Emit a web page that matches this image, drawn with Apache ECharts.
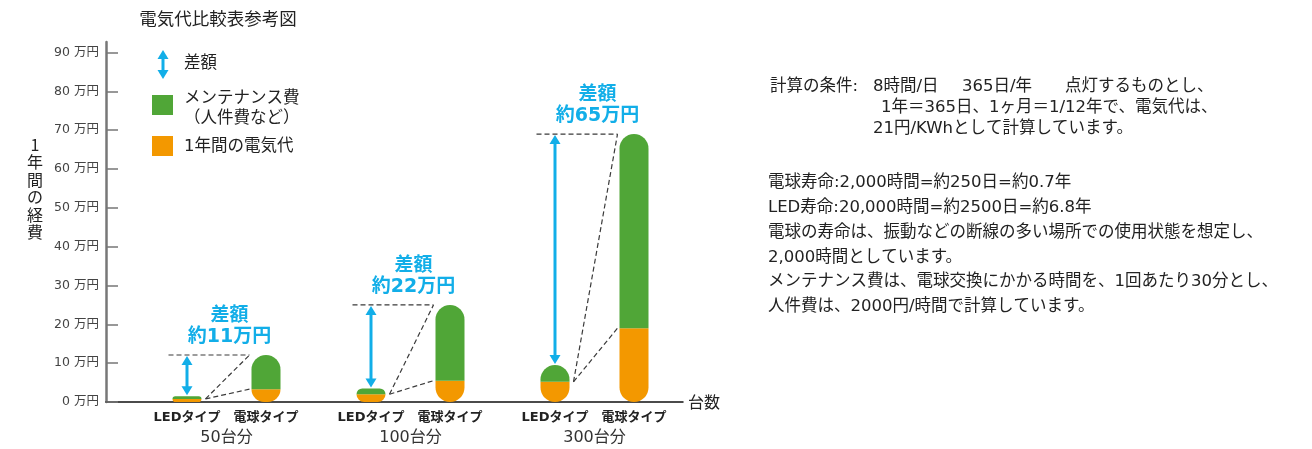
<!DOCTYPE html>
<html><head><meta charset="utf-8">
<script src="https://cdn.jsdelivr.net/npm/echarts@6/dist/echarts.min.js"></script>
<style>html,body{margin:0;padding:0;background:#fff}#c{width:1312px;height:449px}</style>
</head><body><div id="c"></div>
<script>
// ---- data ----
const groups = ['50台分', '100台分', '300台分'];
const typeLabels = ['LEDタイプ', '電球タイプ'];
const ledPower = [0.8, 2.0, 5.2];     // 1年間の電気代 (万円)
const ledMaint = [0.7, 1.5, 4.3];     // メンテナンス費
const bulbPower = [3.3, 5.5, 19.0];
const bulbMaint = [8.8, 19.5, 50.0];
const diffLabels = ['約11万円', '約22万円', '約65万円'];
const yTicks = [0, 10, 20, 30, 40, 50, 60, 70, 80, 90];
const yUnit = '万円';
const legendNames = ['差額', 'メンテナンス費\n（人件費など）', '1年間の電気代'];
const titleText = '電気代比較表参考図';
const yName = '1年間の経費';
const xName = '台数';
const notesHead = '計算の条件:';
const notes1a = ['8時間/日', '365日/年', '点灯するものとし、'];
const notes1b = ['1年＝365日、1ヶ月＝1/12年で、電気代は、', '21円/KWhとして計算しています。'];
const notes2 = [
  '電球寿命:2,000時間=約250日=約0.7年',
  'LED寿命:20,000時間=約2500日=約6.8年',
  '電球の寿命は、振動などの断線の多い場所での使用状態を想定し、',
  '2,000時間としています。',
  'メンテナンス費は、電球交換にかかる時間を、1回あたり30分とし、',
  '人件費は、2000円/時間で計算しています。'
];

// ---- style ----
const FONT = '"DejaVu Sans", "Noto Sans CJK JP", sans-serif';
const CJK = '"Noto Sans CJK JP", "Noto Sans", sans-serif';
const GREEN = '#50A637';
const ORANGE = '#F39800';
const CYAN = '#12AEE8';
const BAR_W = 29, BAR_SPACE = 50, R = 14.5;

const chart = echarts.init(document.getElementById('c'), null, {renderer: 'canvas'});

function renderAnno(params, api) {
  const i = api.value(0);
  const cx = api.coord([i, 0])[0];
  const off = (BAR_W + BAR_SPACE) / 2, half = BAR_W / 2;
  const ledX = cx - off, bulbX = cx + off;
  const yLedMid = api.coord([i, api.value(1)])[1];
  const yLedTop = api.coord([i, api.value(2)])[1];
  const yBulbMid = api.coord([i, api.value(3)])[1];
  const yBulbTop = api.coord([i, api.value(4)])[1];
  const dash = {stroke: '#3a3a3a', lineWidth: 1.2, lineDash: [5, 3], fill: null};
  const sx = ledX + half + 4, ex = bulbX - half - 2;
  return {
    type: 'group',
    children: [
      {type: 'line', shape: {x1: ledX - half - 4, y1: yBulbTop, x2: ex, y2: yBulbTop}, style: dash},
      {type: 'line', shape: {x1: sx, y1: yLedMid, x2: ex, y2: yBulbTop}, style: dash},
      {type: 'line', shape: {x1: sx, y1: yLedMid, x2: ex, y2: yBulbMid}, style: dash},
      {type: 'line', shape: {x1: ledX, y1: yBulbTop + 8, x2: ledX, y2: yLedTop - 8}, style: {stroke: CYAN, lineWidth: 3}},
      {type: 'polygon', shape: {points: [[ledX, yBulbTop + 1], [ledX - 5.5, yBulbTop + 10], [ledX + 5.5, yBulbTop + 10]]}, style: {fill: CYAN}},
      {type: 'polygon', shape: {points: [[ledX, yLedTop - 1], [ledX - 5.5, yLedTop - 10], [ledX + 5.5, yLedTop - 10]]}, style: {fill: CYAN}},
      {type: 'text', x: cx + 3, y: yBulbTop - 7,
        style: {text: legendNames[0] + '\n' + diffLabels[params.dataIndex], align: 'center', verticalAlign: 'bottom',
          fontSize: 19, fontWeight: 'bold', fontFamily: FONT, fill: CYAN, lineHeight: 21}}
    ]
  };
}

function txt(x, y, text, extra) {
  return {type: 'text', x: x, y: y, style: Object.assign({text: text, fontFamily: FONT, fill: '#222', fontSize: 16.5, verticalAlign: 'middle'}, extra || {})};
}
const graphics = [
  txt(218, 18, titleText, {fontSize: 17.5, align: 'center', fontFamily: CJK}),
  txt(35, 136, yName.split('').join('\n'), {fontSize: 16, lineHeight: 17.5, align: 'center', verticalAlign: 'top', fontFamily: CJK}),
  // legend
  {type: 'line', shape: {x1: 163, y1: 56, x2: 163, y2: 73}, style: {stroke: CYAN, lineWidth: 3}},
  {type: 'polygon', shape: {points: [[163, 50], [157.5, 59], [168.5, 59]]}, style: {fill: CYAN}},
  {type: 'polygon', shape: {points: [[163, 79], [157.5, 70], [168.5, 70]]}, style: {fill: CYAN}},
  txt(184, 64, legendNames[0]),
  {type: 'rect', shape: {x: 152, y: 95, width: 21, height: 20}, style: {fill: GREEN}},
  txt(184, 87, legendNames[1], {lineHeight: 20, verticalAlign: 'top', fontFamily: CJK}),
  {type: 'rect', shape: {x: 152, y: 136, width: 21, height: 20}, style: {fill: ORANGE}},
  txt(184, 146.5, legendNames[2]),
  // notes
  txt(770, 87, notesHead),
  txt(873, 87, notes1a[0]),
  txt(962, 87, notes1a[1]),
  txt(1065, 87, notes1a[2]),
  txt(881, 108, notes1b[0]),
  txt(873, 129, notes1b[1]),
  txt(768, 170.5, notes2.join('\n'), {lineHeight: 24.8, verticalAlign: 'top'})
];

const barCommon = {xAxisIndex: 1, yAxisIndex: 1, barWidth: BAR_W, barGap: (BAR_SPACE / BAR_W * 100) + '%', silent: true};

const option = {
  animation: false,
  backgroundColor: '#fff',
  textStyle: {fontFamily: FONT},
  grid: [
    {left: 106, top: 42, width: 577, height: 360},
    {left: 134.5, top: 52.5, width: 552, height: 349.5}
  ],
  xAxis: [
    {type: 'value', gridIndex: 0, min: 0, max: 1,
      axisLine: {show: true, lineStyle: {color: '#111', width: 1.5}},
      axisTick: {show: false}, axisLabel: {show: false}, splitLine: {show: false},
      name: xName, nameLocation: 'end', nameGap: 5,
      nameTextStyle: {fontSize: 16, color: '#222', fontFamily: CJK, verticalAlign: 'middle'}},
    {type: 'category', gridIndex: 1, data: groups,
      axisLine: {show: false}, axisTick: {show: false},
      axisLabel: {
        margin: 7,
        interval: 0,
        formatter: (v) => '{a|' + typeLabels[0] + '}{b|' + typeLabels[1] + '}\n{c|' + v + '}',
        rich: {
          a: {width: 79, align: 'center', fontSize: 13, fontWeight: 'bold', color: '#222', lineHeight: 18, fontFamily: FONT},
          b: {width: 79, align: 'center', fontSize: 13, fontWeight: 'bold', color: '#222', lineHeight: 18, fontFamily: FONT},
          c: {fontSize: 16, color: '#333', lineHeight: 22, fontFamily: FONT}
        }
      }}
  ],
  yAxis: [
    {type: 'value', gridIndex: 0, min: 0, max: 92.7,
      axisLine: {show: true, lineStyle: {color: '#777', width: 2.5}},
      axisTick: {show: true, inside: true, length: 12, lineStyle: {color: '#777', width: 1.5}, customValues: yTicks},
      axisLabel: {customValues: yTicks, margin: 7, fontSize: 12.5, color: '#444', fontFamily: FONT,
        formatter: (v) => v + ' ' + yUnit},
      splitLine: {show: false}},
    {type: 'value', gridIndex: 1, min: 0, max: 90, show: false, splitLine: {show: false}}
  ],
  graphic: graphics,
  series: [
    Object.assign({type: 'bar', name: 'LED電気代', stack: 'led', data: ledPower,
      itemStyle: {color: ORANGE, borderRadius: [0, 0, R, R]}}, barCommon),
    Object.assign({type: 'bar', name: 'LEDメンテナンス費', stack: 'led', data: ledMaint,
      itemStyle: {color: GREEN, borderRadius: [R, R, 0, 0]}}, barCommon),
    Object.assign({type: 'bar', name: '電球電気代', stack: 'bulb', data: bulbPower,
      itemStyle: {color: ORANGE, borderRadius: [0, 0, R, R]}}, barCommon),
    Object.assign({type: 'bar', name: '電球メンテナンス費', stack: 'bulb', data: bulbMaint,
      itemStyle: {color: GREEN, borderRadius: [R, R, 0, 0]}}, barCommon),
    {type: 'custom', name: '差額', xAxisIndex: 1, yAxisIndex: 1, silent: true, z: 5,
      renderItem: renderAnno,
      data: groups.map((g, i) => [i, ledPower[i], ledPower[i] + ledMaint[i], bulbPower[i], bulbPower[i] + bulbMaint[i]])}
  ]
};
chart.setOption(option);
</script>
</body></html>
